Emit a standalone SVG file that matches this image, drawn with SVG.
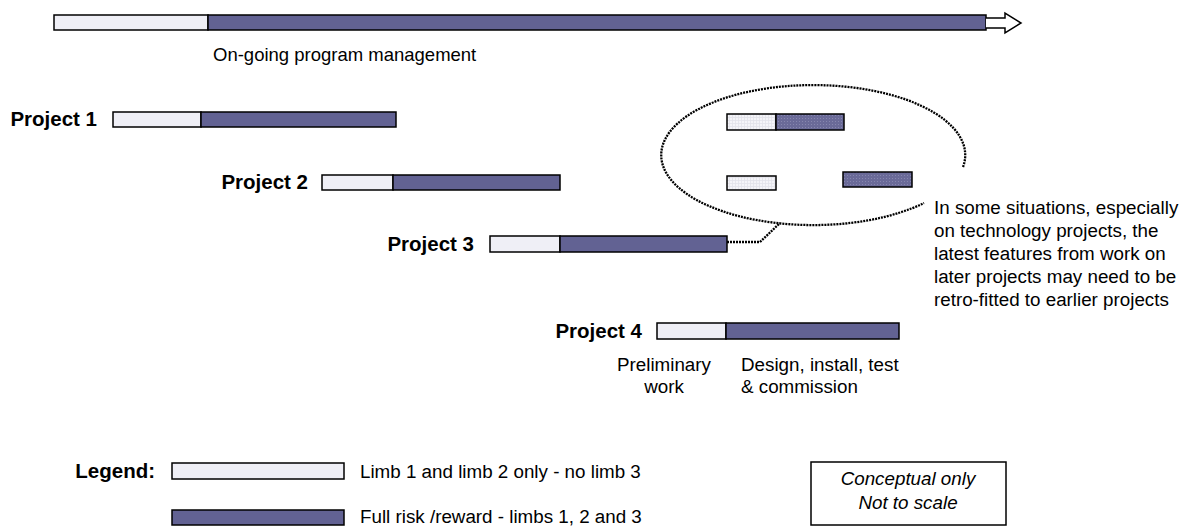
<svg xmlns="http://www.w3.org/2000/svg" width="1186" height="527" viewBox="0 0 1186 527">
<defs>
<style>
.lt{fill:#efeff6;stroke:#000;stroke-width:1.5}
.dk{fill:#626293;stroke:#000;stroke-width:1.5}
.lth{fill:url(#gridL);stroke:#000;stroke-width:1.5}
.dkh{fill:url(#dotD);stroke:#000;stroke-width:1.5}
.t{font-family:"Liberation Sans",Arial,sans-serif;font-size:18.8px;fill:#000}
.b{font-family:"Liberation Sans",Arial,sans-serif;font-size:20.5px;font-weight:bold;fill:#000}
.i{font-style:italic}
.dot{fill:none;stroke:#000;stroke-width:2.3;stroke-dasharray:2 1}
</style>
<pattern id="gridL" width="3" height="3" patternUnits="userSpaceOnUse">
<rect width="3" height="3" fill="#f4f4f8"/>
<path d="M0 0.5H3M0.5 0V3" stroke="#e2e2ea" stroke-width="0.8"/>
</pattern>
<pattern id="dotD" width="3" height="3" patternUnits="userSpaceOnUse">
<rect width="3" height="3" fill="#6a6a98"/>
<rect x="1" y="1" width="1" height="1" fill="#8686ae"/>
</pattern>
</defs>

<g id="program">
<rect class="lt" x="54" y="15" width="154" height="15"/>
<rect class="dk" x="208" y="15" width="778" height="15"/>
<path d="M986 18H1005V13L1021 23L1005 33V28H986" fill="#fff" stroke="#000" stroke-width="1.5"/>
<text class="t" x="213" y="60.5" style="font-size:18.5px">On-going program management</text>
</g>

<g id="project1">
<text class="b" x="97" y="126" text-anchor="end">Project 1</text>
<rect class="lt" x="113" y="112" width="88" height="15"/>
<rect class="dk" x="201" y="112" width="195" height="15"/>
</g>

<g id="project2">
<text class="b" x="308" y="189" text-anchor="end">Project 2</text>
<rect class="lt" x="322" y="175" width="71" height="15"/>
<rect class="dk" x="393" y="175" width="167" height="15"/>
</g>

<g id="project3">
<text class="b" x="474" y="251" text-anchor="end">Project 3</text>
<rect class="lt" x="490" y="236" width="70" height="16"/>
<rect class="dk" x="560" y="236" width="167" height="16"/>
</g>

<g id="project4">
<text class="b" x="642" y="338" text-anchor="end">Project 4</text>
<rect class="lt" x="657" y="323" width="69" height="16"/>
<rect class="dk" x="726" y="323" width="173" height="16"/>
<text class="t" x="664" y="371" text-anchor="middle">Preliminary</text>
<text class="t" x="664" y="393" text-anchor="middle">work</text>
<text class="t" x="741" y="371">Design, install, test</text>
<text class="t" x="741" y="393">&amp; commission</text>
</g>

<g id="callout">
<path class="dot" d="M963 167 A152 70 0 1 0 924 203"/>
<rect class="lth" x="727" y="114" width="49" height="16"/>
<rect class="dkh" x="776" y="114" width="68" height="16"/>
<rect class="lth" x="727" y="176" width="49" height="14"/>
<rect class="dkh" x="843" y="172" width="69" height="15"/>
<text class="t" x="934" y="214">In some situations, especially</text>
<text class="t" x="934" y="237">on technology projects, the</text>
<text class="t" x="934" y="260">latest features from work on</text>
<text class="t" x="934" y="283">later projects may need to be</text>
<text class="t" x="934" y="306">retro-fitted to earlier projects</text>
</g>

<g id="connectors">
<path class="dot" d="M727 242H760L780 223"/>
</g>

<g id="legend">
<text class="b" x="155" y="478" text-anchor="end">Legend:</text>
<rect class="lt" x="172" y="463" width="172" height="16"/>
<text class="t" x="360" y="478">Limb 1 and limb 2 only - no limb 3</text>
<rect class="dk" x="172" y="510" width="172" height="15"/>
<text class="t" x="360" y="523">Full risk /reward - limbs 1, 2 and 3</text>
</g>

<g id="note">
<rect x="811" y="462" width="195" height="63" fill="#fff" stroke="#000" stroke-width="1.5"/>
<text class="t i" x="908" y="485" text-anchor="middle">Conceptual only</text>
<text class="t i" x="908" y="509" text-anchor="middle">Not to scale</text>
</g>
</svg>
